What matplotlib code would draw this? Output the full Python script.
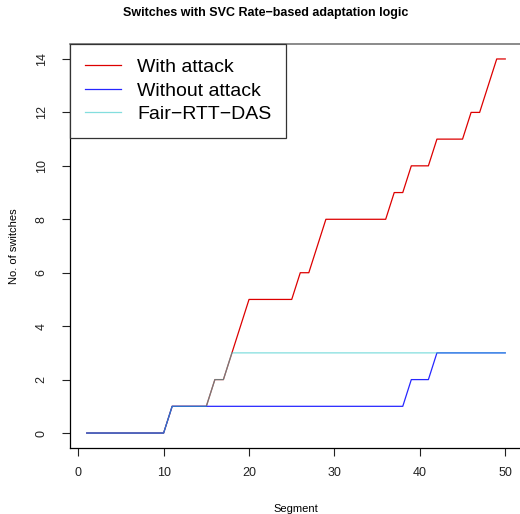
import matplotlib
matplotlib.use("Agg")
import matplotlib.pyplot as plt
import numpy as np

plt.rcParams['font.family'] = ['Liberation Sans', 'DejaVu Sans']

segments = list(range(1, 51))
with_attack = [0] * 10 + [1] * 5 + [2, 2, 3, 4] + [5] * 6 + [6, 6, 7] + [8] * 8 \
    + [9, 9] + [10] * 3 + [11] * 4 + [12, 12, 13, 14, 14]
without_attack = [0] * 10 + [1] * 28 + [2] * 3 + [3] * 9
fair_rtt_das = [0] * 10 + [1] * 5 + [2, 2] + [3] * 33

fig = plt.figure(figsize=(5.2, 5.14), dpi=100)
ax = fig.add_axes([70 / 520, 1 - 448 / 514, 452 / 520, 404 / 514])

ax.plot(segments, with_attack, color='#dd0000', lw=0.9, label='With attack')
ax.plot(segments, without_attack, color='#0000ff', lw=0.9, alpha=0.85, label='Without attack')
ax.plot(segments, fair_rtt_das, color='#30c8c8', lw=0.9, alpha=0.6, label='Fair\u2212RTT\u2212DAS')

ax.set_xlim(1 - 0.04 * 49, 50 + 0.04 * 49)
ax.set_ylim(-0.04 * 14, 14 + 0.04 * 14)
ax.set_xticks(range(0, 51, 10))
ax.set_yticks(range(0, 15, 2))
ax.tick_params(axis='both', direction='out', length=6, width=0.8, labelsize=9, colors='#222222')
ax.tick_params(axis='x', pad=8)
ax.tick_params(axis='y', pad=10)
for lab in ax.get_yticklabels():
    lab.set_rotation(90)
    lab.set_va('center')

for s in ['left', 'bottom']:
    ax.spines[s].set_color('black')
    ax.spines[s].set_linewidth(0.9)
ax.spines['top'].set_color('#777777')
ax.spines['top'].set_linewidth(1.2)
ax.spines['right'].set_visible(False)

ax.set_xlabel('Segment', fontsize=8, labelpad=18)
ax.set_ylabel('No. of switches', fontsize=8, labelpad=12)

leg = ax.legend(loc='upper left', bbox_to_anchor=(0, 1), borderaxespad=0, fancybox=False,
                edgecolor='#333333', fontsize=14, handlelength=1.85, handletextpad=0.85,
                labelspacing=0.3, borderpad=0.75, framealpha=1)
leg.get_frame().set_linewidth(0.9)

fig.text(266 / 520, 1 - 13 / 514, 'Switches with SVC Rate\u2212based adaptation logic',
         ha='center', va='center', fontsize=9, fontweight='bold')

fig.savefig('out.png', dpi=100)
